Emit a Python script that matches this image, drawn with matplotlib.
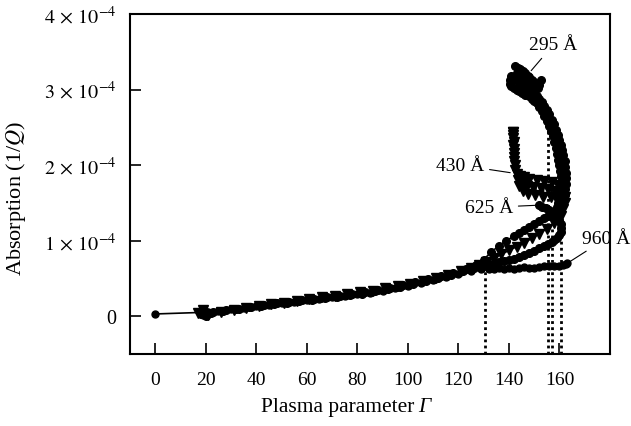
import matplotlib
matplotlib.use("Agg")
import matplotlib.pyplot as plt

# absorption values are in units of 1e-4
SCALE = 1e-4

PTS_960 = [
    (0, 0.03), (18, 0.05), (19, 0.02), (21, 0.06), (25, 0.07), (30, 0.09), (35, 0.11),
    (40, 0.13), (45, 0.15), (50, 0.17), (55, 0.19), (60, 0.21), (65, 0.23), (70, 0.25),
    (75, 0.27), (80, 0.29), (85, 0.31), (90, 0.34), (95, 0.37), (100, 0.40), (105, 0.44),
    (110, 0.48), (115, 0.52), (120, 0.56), (125, 0.60), (129, 0.62), (132, 0.63),
    (134, 0.62), (136, 0.64), (138, 0.63), (140, 0.64), (142, 0.63), (144, 0.64),
    (146, 0.65), (148, 0.64), (150, 0.64), (152, 0.65), (154, 0.66), (156, 0.66),
    (158, 0.66), (160, 0.67), (161.5, 0.68), (162.5, 0.69), (163, 0.70),
]

PTS_625 = [
    (18, 0.07), (20, 0.00), (22, 0.04), (27, 0.07), (32, 0.10), (37, 0.12), (42, 0.14),
    (47, 0.16), (52, 0.18), (57, 0.20), (62, 0.22), (67, 0.24), (72, 0.26), (77, 0.28),
    (82, 0.30), (87, 0.33), (92, 0.36), (97, 0.39), (102, 0.42), (107, 0.46), (112, 0.50),
    (117, 0.55), (122, 0.60), (126, 0.64), (130, 0.67), (132, 0.69), (134, 0.70),
    (136, 0.72), (138, 0.73), (140, 0.75), (142, 0.76), (144, 0.79), (146, 0.81),
    (148, 0.84), (150, 0.86), (152, 0.90), (154, 0.93), (155.5, 0.96), (157, 0.98),
    (158, 1.01), (159, 1.04), (160, 1.08), (160.5, 1.12), (160.8, 1.17), (160.5, 1.22),
    (160, 1.27), (159, 1.31), (158, 1.35), (157, 1.38), (156, 1.41), (154.5, 1.43),
    (153, 1.45), (152, 1.47),
]

PTS_430 = [
    (17, 0.04), (19, 0.08), (21, 0.01), (26, 0.06), (31, 0.08), (36, 0.11), (41, 0.13),
    (46, 0.16), (51, 0.18), (56, 0.20), (61, 0.23), (66, 0.25), (71, 0.27), (76, 0.29),
    (81, 0.32), (86, 0.34), (91, 0.37), (96, 0.40), (101, 0.43), (106, 0.47), (111, 0.51),
    (116, 0.55), (121, 0.60), (125, 0.64), (128, 0.68), (131, 0.72), (134, 0.77),
    (137, 0.82), (140, 0.87), (143, 0.92), (146, 0.97), (149, 1.03), (152, 1.09),
    (155, 1.16), (158, 1.24), (160.5, 1.33), (161.5, 1.42), (162, 1.50), (162, 1.58),
    (161.5, 1.66), (161, 1.58), (160.5, 1.70), (160, 1.60), (159.5, 1.74), (158.5, 1.56),
    (158, 1.66), (157, 1.77), (156.5, 1.58), (155.5, 1.68), (154, 1.79), (153.5, 1.58),
    (152.5, 1.70), (151, 1.80), (150.5, 1.60), (149.5, 1.71), (148, 1.82), (147.5, 1.62),
    (147, 1.72), (146, 1.84), (145.5, 1.66), (145, 1.76), (144.5, 1.85), (144, 1.72),
    (143.5, 1.80), (143, 1.88), (142.5, 1.94), (142.3, 2.00), (142, 2.06), (142.1, 2.11),
    (141.9, 2.16), (142, 2.21), (141.8, 2.26), (141.9, 2.31), (141.7, 2.36), (141.8, 2.40),
    (141.7, 2.44),
]

PTS_295 = [
    (18, 0.03), (20, 0.06), (23, 0.05), (28, 0.08), (33, 0.10), (38, 0.12), (43, 0.15),
    (48, 0.17), (53, 0.19), (58, 0.21), (63, 0.23), (68, 0.25), (73, 0.27), (78, 0.30),
    (83, 0.32), (88, 0.35), (93, 0.38), (98, 0.41), (103, 0.45), (108, 0.49), (113, 0.53),
    (118, 0.57), (123, 0.62), (127, 0.68), (130, 0.75), (133, 0.85), (136, 0.93),
    (139, 1.00), (142, 1.06), (144, 1.10), (146, 1.14), (148, 1.18), (150, 1.22),
    (152, 1.26), (154, 1.30), (155.5, 1.33), (157, 1.36), (158.5, 1.39), (159.5, 1.42),
    (160.5, 1.45), (161, 1.49), (161.5, 1.54), (162, 1.60), (162.3, 1.68), (162.5, 1.75),
    (162.6, 1.83), (162.5, 1.90), (162.3, 1.98), (162, 2.05), (161.5, 2.13), (161, 2.20),
    (160.5, 2.27), (160, 2.33), (159.3, 2.40), (158.5, 2.47), (157.8, 2.54), (157, 2.60),
    (156, 2.67), (155, 2.73), (154, 2.78), (153, 2.83), (152, 2.88), (151, 2.92),
    (150, 2.96), (149, 3.00), (148, 3.04), (147, 3.08), (146, 3.12), (145, 3.15),
    (144, 3.19), (143, 3.22), (142.5, 3.31), (143.5, 3.29), (144.5, 3.27), (145.5, 3.25),
    (146.5, 3.22), (147.5, 3.18), (148, 3.16), (149, 3.13), (150, 3.10), (152.5, 3.12),
    (152, 3.06), (151.5, 3.02), (150, 3.03), (149, 3.04), (148, 3.03), (147, 3.02),
    (146, 3.05), (145, 3.08), (144, 3.10), (143, 3.12), (142, 3.15), (141, 3.18),
    (140.5, 3.12), (140.5, 3.08), (141, 3.05), (142, 3.02), (143, 3.00), (144, 2.98),
    (145, 2.96), (146.5, 2.93), (148, 2.91), (149, 2.88), (150, 2.85), (151, 2.82),
    (152, 2.77), (153, 2.72), (154, 2.65), (155, 2.58), (155.8, 2.52), (156.5, 2.45),
    (157.3, 2.38), (158, 2.30), (158.5, 2.22), (159, 2.15), (159.5, 2.07), (160, 2.00),
    (160.3, 1.92), (160.5, 1.85), (160.6, 1.78), (160.5, 1.70), (160.3, 1.62),
    (160, 1.55), (159.5, 1.50), (159, 1.45),
]

# dotted guide lines: gamma position and height reached
GUIDE_X = [130.5, 155.5, 157, 160.5]
GUIDE_TOP = [0.63, 2.58, 1.20, 1.20]

Y_TICKS = [0, 1, 2, 3, 4]
Y_LABELS = ["0", r"$1\,\times\,10^{-4}$", r"$2\,\times\,10^{-4}$",
            r"$3\,\times\,10^{-4}$", r"$4\,\times\,10^{-4}$"]
X_TICKS = [0, 20, 40, 60, 80, 100, 120, 140, 160]

# label text, text position, pointer target
LABELS = [
    ("295 Å", (157.5, 3.59), (148.8, 3.25)),
    ("430 Å", (120.6, 2.00), (140.5, 1.90)),
    ("625 Å", (132.0, 1.44), (152.0, 1.47)),
    ("960 Å", (178.5, 1.03), (164.0, 0.72)),
]


def plot_series(ax, pts, marker, ms):
    g = [p[0] for p in pts]
    a = [p[1] * SCALE for p in pts]
    ax.plot(g, a, color="black", lw=1.2, marker=marker, ms=ms,
            mfc="black", mec="black", zorder=3)


def main():
    plt.rcParams["font.family"] = "Liberation Serif"
    plt.rcParams["mathtext.fontset"] = "stix"

    fig = plt.figure(figsize=(6.31, 4.27), dpi=100)
    ax = fig.add_axes([0.206, 0.1686, 0.7607, 0.7963])

    for gx, top in zip(GUIDE_X, GUIDE_TOP):
        ax.plot([gx, gx], [-0.5 * SCALE, top * SCALE], color="black", lw=2.0,
                ls=(0, (1, 1.2)), zorder=2)

    plot_series(ax, PTS_960, "o", 5)
    plot_series(ax, PTS_625, "o", 5.5)
    plot_series(ax, PTS_430, "v", 6.5)
    plot_series(ax, PTS_295, "o", 5.5)
    # the 430 run starts with a triangle
    ax.plot(PTS_430[-1][0], PTS_430[-1][1] * SCALE, marker="v", ms=7, color="black", zorder=4)

    for text, pos, target in LABELS:
        ax.annotate(text, xy=(target[0], target[1] * SCALE),
                    xytext=(pos[0], pos[1] * SCALE), ha="center", va="center",
                    fontsize=14, annotation_clip=False,
                    arrowprops=dict(arrowstyle="-", lw=0.8, color="black",
                                    shrinkA=2, shrinkB=0))

    ax.set_xlim(-10, 180)
    ax.set_ylim(-0.5 * SCALE, 4 * SCALE)
    ax.set_xticks(X_TICKS)
    ax.set_xticklabels([str(t) for t in X_TICKS], fontsize=14)
    ax.set_yticks([t * SCALE for t in Y_TICKS])
    ax.set_yticklabels(Y_LABELS, fontsize=14.5)
    ax.tick_params(direction="in", length=8, width=1.2)
    ax.tick_params(axis="x", pad=12)
    ax.tick_params(axis="y", pad=10)
    for spine in ax.spines.values():
        spine.set_linewidth(1.5)

    # x label in two parts so the gamma can be italic
    fig.text(0.656, 0.036, "Plasma parameter", ha="right", va="baseline", fontsize=15.5)
    fig.text(0.662, 0.036, "Γ", ha="left", va="baseline", fontsize=15.5, fontstyle="italic")
    ax.set_ylabel(r"Absorption (1/$\mathit{Q}$)", fontsize=16)
    ax.yaxis.set_label_coords(-0.212, 0.46)

    fig.savefig("out.png", dpi=100)
    plt.close(fig)


if __name__ == "__main__":
    main()
